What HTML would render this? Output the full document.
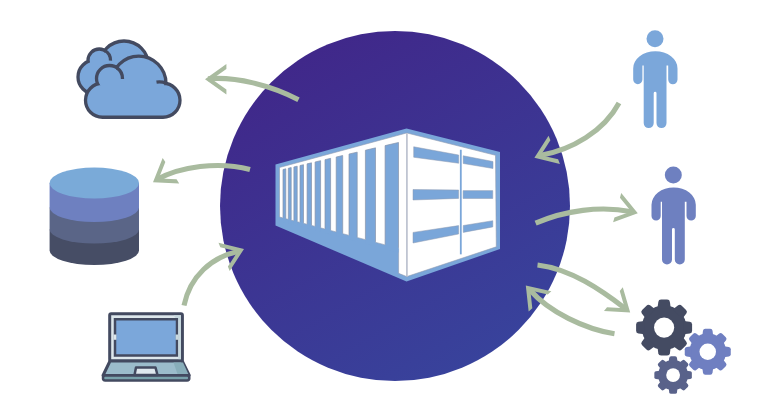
<!DOCTYPE html>
<html><head><meta charset="utf-8"><style>
html,body{margin:0;padding:0;background:#fff;}
svg{display:block;}
</style></head><body>
<svg width="760" height="400" viewBox="0 0 760 400">
<defs>
<linearGradient id="cg" gradientUnits="userSpaceOnUse" x1="300" y1="60" x2="480" y2="370">
<stop offset="0" stop-color="#40288a"/>
<stop offset="1" stop-color="#38439c"/>
</linearGradient>
</defs>
<rect width="760" height="400" fill="#fff"/>
<circle cx="395" cy="206" r="175" fill="url(#cg)"/>

<g id="container">
<polygon points="275.5,164.5 406.5,128.5 500,152 500,249 406.5,281.5 275.5,225.5" fill="#7aa6d9"/>
<polygon points="279.5,167.5 406.5,133 406.5,276.5 398.6,273.3 398.6,248.4 279.5,217" fill="#fff" stroke="#8e9bb0" stroke-width="0.6"/>
<polygon points="283,169.50 285.8,168.84 285.8,222.76 283,222.03" fill="#7aa6d9"/>
<path d="M283,217.53 L283,169.50 L285.8,168.84 L285.8,218.26" fill="none" stroke="#8794aa" stroke-width="0.7"/>
<polygon points="288.3,168.26 291.2,167.58 291.2,224.18 288.3,223.42" fill="#7aa6d9"/>
<path d="M288.3,218.92 L288.3,168.26 L291.2,167.58 L291.2,219.68" fill="none" stroke="#8794aa" stroke-width="0.7"/>
<polygon points="293.9,166.95 297.2,166.18 297.2,225.76 293.9,224.89" fill="#7aa6d9"/>
<path d="M293.9,220.39 L293.9,166.95 L297.2,166.18 L297.2,221.26" fill="none" stroke="#8794aa" stroke-width="0.7"/>
<polygon points="300,165.52 303.5,164.70 303.5,227.42 300,226.50" fill="#7aa6d9"/>
<path d="M300,222.00 L300,165.52 L303.5,164.70 L303.5,222.92" fill="none" stroke="#8794aa" stroke-width="0.7"/>
<polygon points="307.1,163.86 311.5,162.83 311.5,229.52 307.1,228.36" fill="#7aa6d9"/>
<path d="M307.1,223.86 L307.1,163.86 L311.5,162.83 L311.5,225.02" fill="none" stroke="#8794aa" stroke-width="0.7"/>
<polygon points="315.1,161.99 320.6,160.70 320.6,231.91 315.1,230.47" fill="#7aa6d9"/>
<path d="M315.1,225.97 L315.1,161.99 L320.6,160.70 L320.6,227.41" fill="none" stroke="#8794aa" stroke-width="0.7"/>
<polygon points="325,159.67 330.6,158.36 330.6,234.54 325,233.07" fill="#7aa6d9"/>
<path d="M325,228.57 L325,159.67 L330.6,158.36 L330.6,230.04" fill="none" stroke="#8794aa" stroke-width="0.7"/>
<polygon points="336.2,157.05 342.7,155.53 342.7,237.73 336.2,236.02" fill="#7aa6d9"/>
<path d="M336.2,231.52 L336.2,157.05 L342.7,155.53 L342.7,233.23" fill="none" stroke="#8794aa" stroke-width="0.7"/>
<polygon points="349,154.06 357.2,152.14 357.2,241.54 349,239.38" fill="#7aa6d9"/>
<path d="M349,234.88 L349,154.06 L357.2,152.14 L357.2,237.04" fill="none" stroke="#8794aa" stroke-width="0.7"/>
<polygon points="365.4,150.22 375.5,147.85 375.5,246.35 365.4,243.70" fill="#7aa6d9"/>
<path d="M365.4,239.20 L365.4,150.22 L375.5,147.85 L375.5,241.85" fill="none" stroke="#8794aa" stroke-width="0.7"/>
<polygon points="385.1,145.61 398.5,142.47 398.5,252.40 385.1,248.88" fill="#7aa6d9"/>
<path d="M385.1,244.38 L385.1,145.61 L398.5,142.47 L398.5,247.90" fill="none" stroke="#8794aa" stroke-width="0.7"/>

<polygon points="407,133 495.5,155.3 496.3,246.8 407,276.5" fill="#fff" stroke="#8e9bb0" stroke-width="0.6"/>
<rect x="406.2" y="133" width="1.6" height="143.5" fill="#c9ccd6"/>
<polygon points="413.7,146.75 458.7,155 458.7,163.25 413.7,157.25" fill="#7aa6d9" stroke="#8e9bb0" stroke-width="0.5"/>
<polygon points="463.2,155.75 493,161.5 493,168.5 463.2,163.5" fill="#7aa6d9" stroke="#8e9bb0" stroke-width="0.5"/>
<polygon points="413,189.5 458.6,190 458.6,198.4 413,200" fill="#7aa6d9" stroke="#8e9bb0" stroke-width="0.5"/>
<polygon points="463.1,190.6 492.75,190.6 492.75,198.5 463.1,198.5" fill="#7aa6d9" stroke="#8e9bb0" stroke-width="0.5"/>
<polygon points="413,232.4 458.6,225.6 458.6,234 413,243" fill="#7aa6d9" stroke="#8e9bb0" stroke-width="0.5"/>
<polygon points="463.25,225.5 492.8,220.7 492.8,226.9 463.25,232.4" fill="#7aa6d9" stroke="#8e9bb0" stroke-width="0.5"/>
<rect x="459.9" y="149.75" width="1.8" height="104.6" fill="#7aa6d9"/>
</g>

<g id="cloud"><path fill="none" stroke="#434a60" stroke-width="4.3" d="M78.5,77 a16.5,16.5 0 1,0 33.0,0 a16.5,16.5 0 1,0 -33.0,0 Z M88.5,60.25 a10.75,10.75 0 1,0 21.5,0 a10.75,10.75 0 1,0 -21.5,0 Z M100.0,65.5 a24.0,24.0 0 1,0 48.0,0 a24.0,24.0 0 1,0 -48.0,0 Z "/><path fill="#7ba7da" d="M79.65,77 a15.35,15.35 0 1,0 30.7,0 a15.35,15.35 0 1,0 -30.7,0 Z M89.65,60.25 a9.6,9.6 0 1,0 19.2,0 a9.6,9.6 0 1,0 -19.2,0 Z M101.15,65.5 a22.85,22.85 0 1,0 45.7,0 a22.85,22.85 0 1,0 -45.7,0 Z "/><path fill="none" stroke="#434a60" stroke-width="3.3" d="M104.5,50.4 A11.25,11.25 0 0 1 110.5,60.6"/><path fill="none" stroke="#434a60" stroke-width="4.3" d="M86.0,100.25 a16.5,16.5 0 1,0 33.0,0 a16.5,16.5 0 1,0 -33.0,0 Z M97.0,78.5 a12.5,12.5 0 1,0 25.0,0 a12.5,12.5 0 1,0 -25.0,0 Z M111.89999999999999,83.4 a26.8,26.8 0 1,0 53.6,0 a26.8,26.8 0 1,0 -53.6,0 Z M146.5,100.25 a16.5,16.5 0 1,0 33.0,0 a16.5,16.5 0 1,0 -33.0,0 Z M102.5,116.75 H163"/><path fill="#7ba7da" d="M87.15,100.25 a15.35,15.35 0 1,0 30.7,0 a15.35,15.35 0 1,0 -30.7,0 Z M98.15,78.5 a11.35,11.35 0 1,0 22.7,0 a11.35,11.35 0 1,0 -22.7,0 Z M113.04999999999998,83.4 a25.650000000000002,25.650000000000002 0 1,0 51.300000000000004,0 a25.650000000000002,25.650000000000002 0 1,0 -51.300000000000004,0 Z M147.65,100.25 a15.35,15.35 0 1,0 30.7,0 a15.35,15.35 0 1,0 -30.7,0 Z M100,95 V115.6 H165 V95 Z M105,90 L105,100 L160,100 L160,90 L125,75 Z"/><path fill="none" stroke="#434a60" stroke-width="3.3" d="M117,67.8 A13,13 0 0 1 122.5,79"/><path fill="none" stroke="#434a60" stroke-width="3.3" d="M166,83.3 A17,17 0 0 0 156.5,82.2"/></g>

<g id="db">
<path d="M49.6,229.5 L49.6,250.5 A44.7,14.5 0 0 0 139,250.5 L139,229.5 Z" fill="#464d65"/>
<path d="M49.6,207.5 L49.6,229.5 A44.7,14 0 0 0 139,229.5 L139,207.5 Z" fill="#5a6587"/>
<path d="M49.6,183 L49.6,207.5 A44.7,14.5 0 0 0 139,207.5 L139,183 Z" fill="#6e80c0"/>
<ellipse cx="94.3" cy="183" rx="44.7" ry="15.5" fill="#7aaad8"/>
</g>


<g id="laptop" stroke="#434a60">
<rect x="109.7" y="313.7" width="72.7" height="47.3" rx="1.5" fill="#dde7ec" stroke-width="3"/>
<rect x="115" y="319.25" width="62" height="36.25" fill="#7ba7da" stroke-width="2.5"/>
<polygon points="173.5,315.3 181,315.3 181,359.5 178.4,359.5 178.4,318 175.5,318" fill="#c7d8de" stroke="none"/>
<rect x="113.6" y="334.5" width="2.8" height="5.3" fill="#dde7ec" stroke="none"/>
<rect x="175.6" y="334.5" width="2.8" height="5.3" fill="#c9d9df" stroke="none"/>
<polygon points="110,361 182.2,361 189.3,375.5 103,375.5" fill="#9bbccb" stroke-width="3" stroke-linejoin="round"/>
<rect x="103" y="375.6" width="86.3" height="4.8" rx="2.2" fill="#78a2ab" stroke-width="2.5"/>
<polygon points="173.5,362.5 183,362.5 188.3,374 177.5,374" fill="#88aeba" stroke="none"/>
<polygon points="136,367.5 155.5,367.5 157.5,375 134.5,375" fill="#dfe8ee" stroke-width="2.5" stroke-linejoin="round"/>
</g>


<g id="p1" fill="#7ba7da"><circle cx="655" cy="38.75" r="8.5"/><path d="M633.2,79.6 L633.2,68.4 A22.15,17.2 0 0 1 677.5,68.4 L677.5,79.6 A4.65,4.65 0 0 1 668.2,79.6 L668.2,65.5 L666.5,65.5 L666.5,123.1 A5,5 0 0 1 656.5,123.1 L656.5,93.2 A1.4,1.4 0 0 0 653.7,93.2 L653.7,123.1 A5,5 0 0 1 643.7,123.1 L643.7,65.5 L642.4,65.5 L642.4,79.6 A4.6,4.6 0 0 1 633.2,79.6 Z"/></g>
<g id="p2" fill="#6e80c0" transform="translate(18.3,136.3)"><circle cx="655" cy="38.75" r="8.5"/><path d="M633.2,79.6 L633.2,68.4 A22.15,17.2 0 0 1 677.5,68.4 L677.5,79.6 A4.65,4.65 0 0 1 668.2,79.6 L668.2,65.5 L666.5,65.5 L666.5,123.1 A5,5 0 0 1 656.5,123.1 L656.5,93.2 A1.4,1.4 0 0 0 653.7,93.2 L653.7,123.1 A5,5 0 0 1 643.7,123.1 L643.7,65.5 L642.4,65.5 L642.4,79.6 A4.6,4.6 0 0 1 633.2,79.6 Z"/></g>

<g fill="none" stroke="#a9bb9f" stroke-width="5.1">
<path d="M208,78.8 C236,76.5 270,85 298.5,99.7"/>
<path d="M157,179.5 C180,166.8 218,161 250,169.5"/>
<path d="M238,251.5 C212,257 190,276 184,305.5"/>
<path d="M540,155.5 C572,150 604,131 619,103"/>
<path d="M632,211.8 C600,205.5 565,210.5 535.6,223.2"/>
<path d="M625.5,308.7 C601,290 571,269 537.5,265"/>
<path d="M530,290 C549,312 585,329 614.5,333.8"/>
</g>
<path transform="translate(205,79.2) rotate(180)" d="M0,0 L-21.4,-15.2 L-21.4,-10.3 L-6.9,0 L-21.4,10.3 L-21.4,15.2 Z" fill="#a9bb9f"/>
<path transform="translate(153,182.3) rotate(147)" d="M0,0 L-21.4,-15.2 L-21.4,-10.3 L-6.9,0 L-21.4,10.3 L-21.4,15.2 Z" fill="#a9bb9f"/>
<path transform="translate(244,249) rotate(-21.6)" d="M0,0 L-21.4,-15.2 L-21.4,-10.3 L-6.9,0 L-21.4,10.3 L-21.4,15.2 Z" fill="#a9bb9f"/>
<path transform="translate(534.4,157.8) rotate(158)" d="M0,0 L-21.4,-15.2 L-21.4,-10.3 L-6.9,0 L-21.4,10.3 L-21.4,15.2 Z" fill="#a9bb9f"/>
<path transform="translate(637.8,213.3) rotate(15.5)" d="M0,0 L-21.4,-15.2 L-21.4,-10.3 L-6.9,0 L-21.4,10.3 L-21.4,15.2 Z" fill="#a9bb9f"/>
<path transform="translate(630.2,312.4) rotate(38.2)" d="M0,0 L-21.4,-15.2 L-21.4,-10.3 L-6.9,0 L-21.4,10.3 L-21.4,15.2 Z" fill="#a9bb9f"/>
<path transform="translate(525.8,285.4) rotate(228.4)" d="M0,0 L-21.4,-15.2 L-21.4,-10.3 L-6.9,0 L-21.4,10.3 L-21.4,15.2 Z" fill="#a9bb9f"/>

<g transform="translate(664.1,327.6) scale(1.018)" fill="#444b62">
<circle r="22"/>
<path transform="rotate(0)" d="M-6.5,-19 L-5.7,-25.2 Q-5.4,-27.5 -3,-27.5 L3,-27.5 Q5.4,-27.5 5.7,-25.2 L6.5,-19 Z"/>
<path transform="rotate(45)" d="M-6.5,-19 L-5.7,-25.2 Q-5.4,-27.5 -3,-27.5 L3,-27.5 Q5.4,-27.5 5.7,-25.2 L6.5,-19 Z"/>
<path transform="rotate(90)" d="M-6.5,-19 L-5.7,-25.2 Q-5.4,-27.5 -3,-27.5 L3,-27.5 Q5.4,-27.5 5.7,-25.2 L6.5,-19 Z"/>
<path transform="rotate(135)" d="M-6.5,-19 L-5.7,-25.2 Q-5.4,-27.5 -3,-27.5 L3,-27.5 Q5.4,-27.5 5.7,-25.2 L6.5,-19 Z"/>
<path transform="rotate(180)" d="M-6.5,-19 L-5.7,-25.2 Q-5.4,-27.5 -3,-27.5 L3,-27.5 Q5.4,-27.5 5.7,-25.2 L6.5,-19 Z"/>
<path transform="rotate(225)" d="M-6.5,-19 L-5.7,-25.2 Q-5.4,-27.5 -3,-27.5 L3,-27.5 Q5.4,-27.5 5.7,-25.2 L6.5,-19 Z"/>
<path transform="rotate(270)" d="M-6.5,-19 L-5.7,-25.2 Q-5.4,-27.5 -3,-27.5 L3,-27.5 Q5.4,-27.5 5.7,-25.2 L6.5,-19 Z"/>
<path transform="rotate(315)" d="M-6.5,-19 L-5.7,-25.2 Q-5.4,-27.5 -3,-27.5 L3,-27.5 Q5.4,-27.5 5.7,-25.2 L6.5,-19 Z"/>
</g>
<circle cx="664.1" cy="327.6" r="10.1" fill="#fff"/>
<g transform="translate(707.75,351.75) scale(0.8363636363636363)" fill="#6f7fc1">
<circle r="22"/>
<path transform="rotate(0)" d="M-6.5,-19 L-5.7,-25.2 Q-5.4,-27.5 -3,-27.5 L3,-27.5 Q5.4,-27.5 5.7,-25.2 L6.5,-19 Z"/>
<path transform="rotate(45)" d="M-6.5,-19 L-5.7,-25.2 Q-5.4,-27.5 -3,-27.5 L3,-27.5 Q5.4,-27.5 5.7,-25.2 L6.5,-19 Z"/>
<path transform="rotate(90)" d="M-6.5,-19 L-5.7,-25.2 Q-5.4,-27.5 -3,-27.5 L3,-27.5 Q5.4,-27.5 5.7,-25.2 L6.5,-19 Z"/>
<path transform="rotate(135)" d="M-6.5,-19 L-5.7,-25.2 Q-5.4,-27.5 -3,-27.5 L3,-27.5 Q5.4,-27.5 5.7,-25.2 L6.5,-19 Z"/>
<path transform="rotate(180)" d="M-6.5,-19 L-5.7,-25.2 Q-5.4,-27.5 -3,-27.5 L3,-27.5 Q5.4,-27.5 5.7,-25.2 L6.5,-19 Z"/>
<path transform="rotate(225)" d="M-6.5,-19 L-5.7,-25.2 Q-5.4,-27.5 -3,-27.5 L3,-27.5 Q5.4,-27.5 5.7,-25.2 L6.5,-19 Z"/>
<path transform="rotate(270)" d="M-6.5,-19 L-5.7,-25.2 Q-5.4,-27.5 -3,-27.5 L3,-27.5 Q5.4,-27.5 5.7,-25.2 L6.5,-19 Z"/>
<path transform="rotate(315)" d="M-6.5,-19 L-5.7,-25.2 Q-5.4,-27.5 -3,-27.5 L3,-27.5 Q5.4,-27.5 5.7,-25.2 L6.5,-19 Z"/>
</g>
<circle cx="707.75" cy="351.75" r="8.25" fill="#fff"/>
<g transform="translate(673.1,375.1) scale(0.6818181818181818)" fill="#59628a">
<circle r="22"/>
<path transform="rotate(0)" d="M-6.5,-19 L-5.7,-25.2 Q-5.4,-27.5 -3,-27.5 L3,-27.5 Q5.4,-27.5 5.7,-25.2 L6.5,-19 Z"/>
<path transform="rotate(45)" d="M-6.5,-19 L-5.7,-25.2 Q-5.4,-27.5 -3,-27.5 L3,-27.5 Q5.4,-27.5 5.7,-25.2 L6.5,-19 Z"/>
<path transform="rotate(90)" d="M-6.5,-19 L-5.7,-25.2 Q-5.4,-27.5 -3,-27.5 L3,-27.5 Q5.4,-27.5 5.7,-25.2 L6.5,-19 Z"/>
<path transform="rotate(135)" d="M-6.5,-19 L-5.7,-25.2 Q-5.4,-27.5 -3,-27.5 L3,-27.5 Q5.4,-27.5 5.7,-25.2 L6.5,-19 Z"/>
<path transform="rotate(180)" d="M-6.5,-19 L-5.7,-25.2 Q-5.4,-27.5 -3,-27.5 L3,-27.5 Q5.4,-27.5 5.7,-25.2 L6.5,-19 Z"/>
<path transform="rotate(225)" d="M-6.5,-19 L-5.7,-25.2 Q-5.4,-27.5 -3,-27.5 L3,-27.5 Q5.4,-27.5 5.7,-25.2 L6.5,-19 Z"/>
<path transform="rotate(270)" d="M-6.5,-19 L-5.7,-25.2 Q-5.4,-27.5 -3,-27.5 L3,-27.5 Q5.4,-27.5 5.7,-25.2 L6.5,-19 Z"/>
<path transform="rotate(315)" d="M-6.5,-19 L-5.7,-25.2 Q-5.4,-27.5 -3,-27.5 L3,-27.5 Q5.4,-27.5 5.7,-25.2 L6.5,-19 Z"/>
</g>
<circle cx="673.1" cy="375.1" r="6.9" fill="#fff"/>
</svg>
</body></html>
